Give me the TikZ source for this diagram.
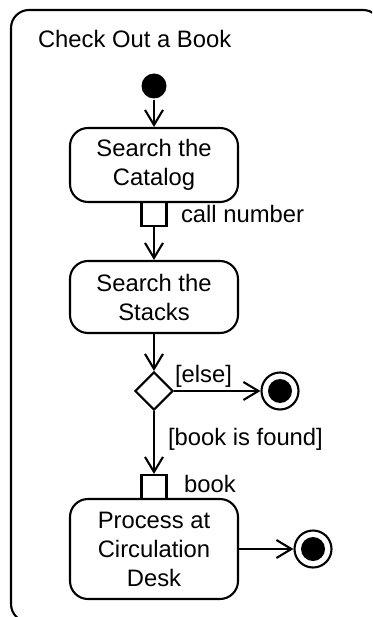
\documentclass[tikz,border=0pt]{standalone}
\usepackage{fontspec}
\setmainfont{Liberation Sans}
\usetikzlibrary{arrows.meta,shapes.geometric,positioning}

\tikzset{
  action/.style={draw, rounded corners=18pt, minimum width=168pt, align=center, inner sep=0pt},
  objpin/.style={draw, minimum width=25pt, minimum height=24pt, inner sep=0pt},
  initial/.style={circle, fill=black, minimum size=25pt, inner sep=0pt},
  final/.style={circle, draw, minimum size=37pt, inner sep=0pt,
    path picture={\fill (path picture bounding box.center) circle (12pt);}},
  decision/.style={diamond, draw, minimum width=38pt, minimum height=38pt, inner sep=0pt},
  flow/.style={-{Straight Barb[length=15pt,width=18pt]}},
  lbl/.style={anchor=base west, inner sep=0pt},
}

\begin{document}
\begin{tikzpicture}[x=1pt, y=-1pt, line width=2.1pt, font=\fontsize{23.8}{29}\selectfont]
\useasboundingbox (0,0) rectangle (372,617);
% activity frame, running off the right and bottom edges
\begin{scope}
  \clip (0,0) rectangle (372,617);
  \draw[rounded corners=18pt] (11,10) rectangle (381,622);
\end{scope}
\node[lbl] (title) at (37,48) {Check Out a Book};

% nodes
\node[initial] (start) at (154,86) {};
\node[action, minimum height=74pt] (catalog) at (154,165) {Search the\\Catalog};
\node[objpin] (callno) at (154,214) {};
\node[action, minimum height=72pt] (stacks) at (154,297) {Search the\\Stacks};
\node[decision] (found) at (154,391) {};
\node[final] (endA) at (280,391) {};
\node[objpin] (bookpin) at (154,487) {};
\node[action, minimum height=100pt] (process) at (154,549) {Process at\\Circulation\\Desk};
\node[final] (endB) at (313,549) {};

% pin labels and guards
\node[lbl] (callnoLbl) at (180,223) {call number};
\node[lbl] (elseLbl) at (174,382) {[else]};
\node[lbl] (foundLbl) at (167,445) {[book is found]};
\node[lbl] (bookLbl) at (183,492) {book};

% flows
\draw[flow] (start) -- (catalog);
\draw[flow] (callno) -- (stacks);
\draw[flow] (stacks) -- (found);
\draw[flow] (found) -- (endA);
\draw[flow] (found) -- (bookpin);
\draw[flow] (process) -- (endB);
\end{tikzpicture}
\end{document}
